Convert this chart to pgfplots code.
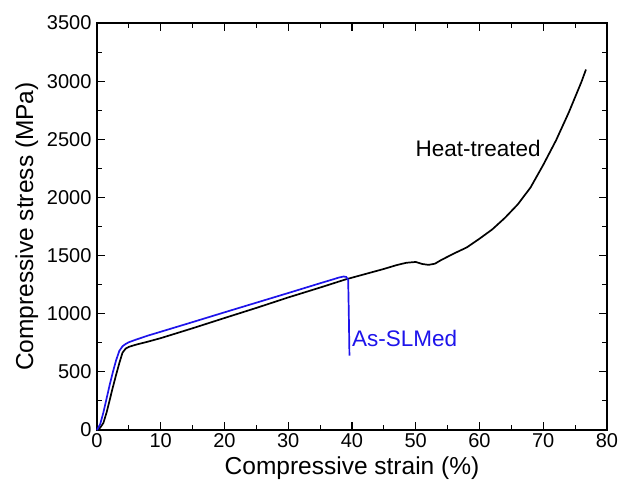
\documentclass[border=0pt]{standalone}
\usepackage{pgfplots}
\pgfplotsset{compat=1.18}
\usepackage{fontspec}
\setmainfont{Liberation Sans}
\definecolor{slmblue}{RGB}{30,20,235}
\begin{document}
\begin{tikzpicture}
\begin{axis}[
  scale only axis,
  width=510pt, height=407pt,
  xmin=0, xmax=80, ymin=0, ymax=3500,
  xtick={0,10,...,80}, ytick={0,500,...,3500},
  minor x tick num=1, minor y tick num=1,
  tick align=inside,
  major tick length=8pt, minor tick length=5pt,
  axis line style={line width=1.2pt},
  every tick/.style={line width=1.1pt, black},
  /pgf/number format/assume math mode=true,
  /pgf/number format/1000 sep={},
  ticklabel style={font=\fontsize{20}{22}\selectfont},
  xticklabel style={yshift=0pt},
  yticklabel style={xshift=-2pt},
  label style={font=\fontsize{24.5}{27}\selectfont},
  xlabel={Compressive strain (\%)},
  ylabel={Compressive stress (MPa)},
  xlabel style={yshift=-2pt},
  ylabel style={yshift=2pt},
  clip=false,
]
\addplot[black, line width=1.7pt] coordinates {
(0,0)(0.5,20)(1,60)(1.5,150)(2,260)(2.5,370)(3,475)(3.5,575)(4,665)(4.5,700)(5,715)(6,732)(8,760)(10,790)(15,875)(20,963)(25,1050)(30,1140)(35,1225)(39,1295)(42,1340)(45,1385)(47,1418)(48.5,1438)(50,1445)(51,1428)(52,1420)(53,1430)(54,1462)(56,1518)(58,1570)(60,1645)(62,1725)(64,1825)(66,1940)(68,2085)(70,2280)(72,2490)(74,2730)(76,2995)(76.7,3100)
};
\addplot[slmblue, line width=1.7pt] coordinates {
(0,0)(0.5,50)(1,150)(1.5,270)(2,390)(2.5,500)(3,600)(3.5,680)(4,720)(4.5,740)(5,755)(6,775)(8,812)(10,845)(15,928)(20,1012)(25,1095)(30,1178)(35,1262)(37,1295)(38,1312)(38.7,1320)(39.1,1316)(39.4,1290)(39.5,1000)(39.6,640)
};
\node[font=\fontsize{22.5}{25}\selectfont] at (axis cs:59.8,2425) {Heat-treated};
\node[font=\fontsize{22.5}{25}\selectfont, text=slmblue, anchor=west, inner sep=0pt] at (axis cs:40.0,791) {As-SLMed};
\coordinate (bl) at (rel axis cs:0,0);
\coordinate (tr) at (rel axis cs:1,1);
\end{axis}
\pgfresetboundingbox
\path (bl) ++(-97pt,-61pt) coordinate (a);
\path (tr) ++(14pt,23pt) coordinate (b);
\path[use as bounding box] (a) rectangle (b);
\end{tikzpicture}
\end{document}
